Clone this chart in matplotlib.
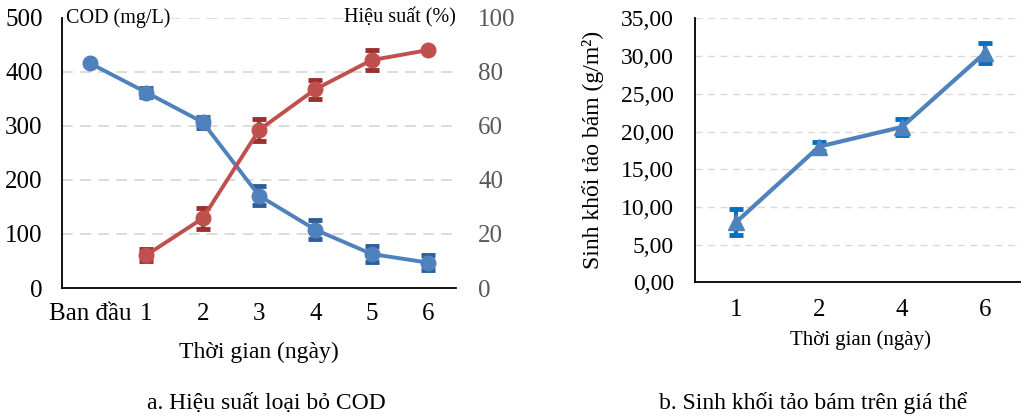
import matplotlib.pyplot as plt
import numpy as np

plt.rcParams.update({
    "font.family": "Liberation Serif",
    "axes.linewidth": 1.3,
})

# Panel a: COD and removal efficiency
days_a = ["Ban đầu", "1", "2", "3", "4", "5", "6"]
cod = [416, 362, 307, 171, 108, 63, 47]
cod_err = [0, 9, 10, 18, 17, 14, 14]
eff = [np.nan, 12.2, 25.8, 58.5, 73.6, 84.4, 88.1]
eff_err = [0, 2.3, 4.0, 4.0, 3.6, 3.6, 0]

# Panel b: attached algae biomass
days_b = ["1", "2", "4", "6"]
biomass = [8.0, 18.0, 20.6, 30.4]
biomass_err = [1.7, 0.6, 1.1, 1.3]

blue = "#4F81BD"
blue_dark = "#2F5E9A"
red = "#C0504D"
red_dark = "#9B302D"
grid_c = "#D9D9D9"

fig = plt.figure(figsize=(10.21, 4.18), dpi=100)

# ---- left panel ----
ax = fig.add_axes([0.0607, 0.311, 0.386, 0.646])
x = np.arange(len(days_a))
ax.errorbar(x, cod, yerr=cod_err, color=blue, ecolor=blue_dark, lw=2.8,
            marker="o", ms=10.5, capsize=5, capthick=3.5, elinewidth=3, zorder=3)
ax2 = ax.twinx()
ax2.errorbar(x, eff, yerr=eff_err, color=red, ecolor=red_dark, lw=2.8,
             marker="o", ms=10.5, capsize=5, capthick=3.5, elinewidth=3, zorder=3)
ax.set_xlim(-0.5, len(days_a) - 0.5)
ax.set_ylim(0, 500)
ax2.set_ylim(0, 100)
ax.set_yticks(range(0, 501, 100))
ax2.set_yticks(range(0, 101, 20))
ax.set_xticks(x)
ax.set_xticklabels(days_a)
ax.tick_params(length=0, labelsize=18, pad=14)
ax.tick_params(axis="x", pad=11)
ax2.tick_params(length=0, labelsize=18, labelcolor="#595959", pad=16)
for s in ["top", "right"]:
    ax.spines[s].set_visible(False)
for s in ax2.spines.values():
    s.set_visible(False)
for v in range(100, 501, 100):
    ax.axhline(v, color=grid_c, lw=1.3, ls=(0, (6, 4)), zorder=0)
ax.set_xlabel("Thời gian (ngày)", fontsize=17, labelpad=12)
ax.text(0.01, 1.0, "COD (mg/L)", transform=ax.transAxes, fontsize=14.5,
        ha="left", va="center", bbox=dict(fc="white", ec="none", pad=0.5))
ax.text(1.0, 1.0, "Hiệu suất (%)", transform=ax.transAxes, fontsize=14.5,
        ha="right", va="center", bbox=dict(fc="white", ec="none", pad=0.5))

# ---- right panel ----
bx = fig.add_axes([0.6807, 0.3246, 0.3243, 0.6314])
xb = np.arange(len(days_b))
bx.errorbar(xb, biomass, yerr=biomass_err, color=blue, ecolor="#0070C0", lw=3,
            marker="^", ms=12, capsize=5, capthick=3.5, elinewidth=3, zorder=3)
bx.set_xlim(-0.5, len(days_b) - 0.5)
bx.set_ylim(0, 35)
bx.set_yticks(np.arange(0, 35.1, 5))
bx.set_yticklabels([f"{v:.2f}".replace(".", ",") for v in np.arange(0, 35.1, 5)])
bx.set_xticks(xb)
bx.set_xticklabels(days_b)
bx.tick_params(length=0, labelsize=17, pad=15)
bx.tick_params(axis="x", labelsize=18, pad=12)
for s in ["top", "right"]:
    bx.spines[s].set_visible(False)
for v in np.arange(5, 35.1, 5):
    bx.axhline(v, color=grid_c, lw=1.0, ls=(0, (5, 4)), zorder=0)
bx.set_xlabel("Thời gian (ngày)", fontsize=15, labelpad=7)
bx.set_ylabel("Sinh khối tảo bám (g/m²)", fontsize=17, labelpad=12)

fig.text(0.2605, 0.036, "a. Hiệu suất loại bỏ COD", fontsize=17, ha="center", va="center")
fig.text(0.796, 0.036, "b. Sinh khối tảo bám trên giá thể", fontsize=17, ha="center", va="center")

fig.savefig("out.png", dpi=100)
